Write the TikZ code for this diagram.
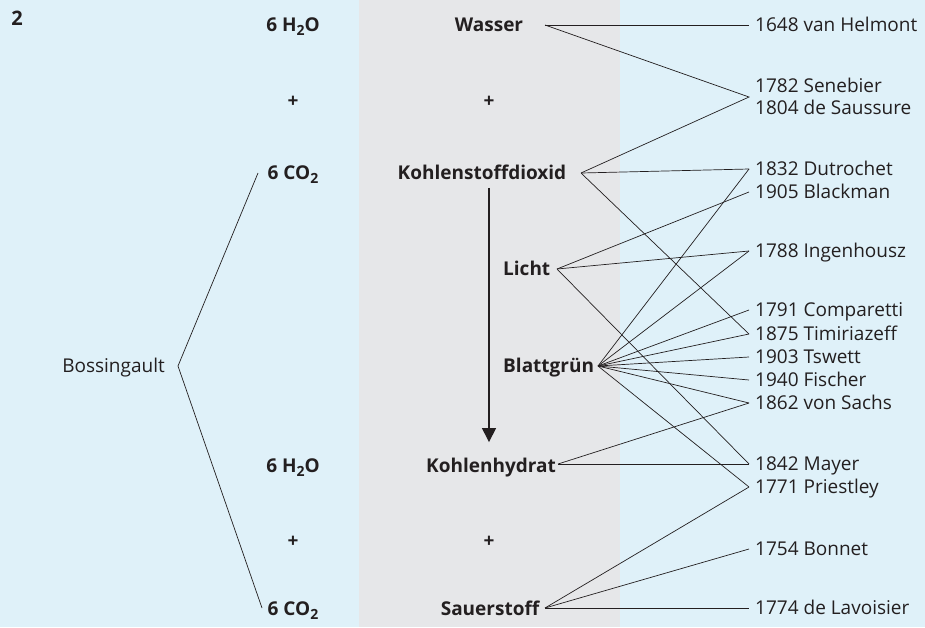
\documentclass[tikz,border=0pt]{standalone}
\usepackage{fontspec}
\setmainfont{Open Sans}
\usepackage{tikz}
\usetikzlibrary{arrows.meta}
\usetikzlibrary{calc}
\definecolor{Ink}{RGB}{35,31,32}
\definecolor{SkyBg}{RGB}{223,241,249}
\definecolor{BandBg}{RGB}{230,231,233}
\newcommand{\lowsub}[1]{\raisebox{-0.35ex}{\fontsize{14}{14}\selectfont #1}}

\begin{document}
\begin{tikzpicture}[x=1pt,y=-1pt]
		\tikzstyle{Term}=[font=\fontsize{19}{22}\selectfont\bfseries,text=Ink,inner sep=0pt,text height=13.5pt,text depth=0pt]
		\tikzstyle{Name}=[font=\fontsize{19}{22}\selectfont,text=Ink,anchor=west,inner xsep=6pt,inner ysep=0pt,text height=13.5pt,text depth=0pt]
		\tikzstyle{link}=[draw=Ink,line width=0.7pt]
		\tikzstyle{flow}=[draw=Ink,line width=1.4pt,-{Triangle[length=14pt,width=14pt]}]

 		\def\colL {293}
 		\def\colM {489}
 		\def\colR {749}

		% background
		\fill[SkyBg] (0,0) rectangle (925,627);
		\fill[BandBg] (359,0) rectangle (620,627);
		\useasboundingbox (0,0) rectangle (925,627);

		\node [Term,font=\fontsize{20}{22}\selectfont\bfseries] (num) at (17,19) {2};

		% equation, left column
		\node [Term] (lH2O) at (\colL,25) {6 H\lowsub{2}O};
		\node [Term] (lPlus) at (\colL,101) {+};
		\node [Term] (lCO2) at (\colL,173) {6 CO\lowsub{2}};
		\node [Term] (rH2O) at (\colL,466) {6 H\lowsub{2}O};
		\node [Term] (rPlus) at (\colL,541) {+};
		\node [Term] (rCO2) at (\colL,609) {6 CO\lowsub{2}};

		% words, middle column
		\node [Term] (wasser) at (\colM,25) {Wasser};
		\node [Term] (mPlusA) at (\colM,101) {+};
		\node [Term] (dioxid) at (482,173) {Kohlenstoffdioxid};
		\node [Term,anchor=west] (licht) at (503,269) {Licht};
		\node [Term,anchor=west] (gruen) at (503,366) {Blattgrün};
		\node [Term] (hydrat) at (491,466) {Kohlenhydrat};
		\node [Term] (mPlusB) at (\colM,541) {+};
		\node [Term] (sauer) at (490,609) {Sauerstoff};

		\draw [flow] ([yshift=-8pt]dioxid.south -| wasser.center) -- ([yshift=17pt]hydrat.north -| wasser.center);

		% researchers, right column
		\foreach \y/\nm/\who in {25/helmont/1648 van Helmont, 86/senebier/1782 Senebier, 108/saussure/1804 de Saussure,
			169/dutrochet/1832 Dutrochet, 192/blackman/1905 Blackman, 251/ingenhousz/1788 Ingenhousz,
			310/comparetti/1791 Comparetti, 334/timiriazeff/1875 Timiriazeff, 357/tswett/1903 Tswett,
			380/fischer/1940 Fischer, 403/sachs/1862 von Sachs, 464/mayer/1842 Mayer,
			487/priestley/1771 Priestley, 549/bonnet/1754 Bonnet, 608/lavoisier/1774 de Lavoisier}
		{
			\node [Name] (\nm) at (\colR,\y) {\who};
		}
		\coordinate (senS) at ($(senebier.west)!0.5!(saussure.west)$);

		% line ends after the words
		\coordinate (hWa) at (545,25);
		\coordinate (hDi) at (581,173);
		\coordinate (hLi) at (557,269);
		\coordinate (hGr) at (598,366);
		\coordinate (hHy) at (558,464);
		\coordinate (hSa) at (545,608);

		\draw [link] (hWa) -- (helmont.west);
		\draw [link] (hWa) -- (senS) -- (hDi);
		\draw [link] (hDi) -- (dutrochet.west);
		\draw [link] (hDi) -- (timiriazeff.west);

		\draw [link] (hLi) -- (blackman.west);
		\draw [link] (hLi) -- (ingenhousz.west);
		\draw [link] (hLi) -- (mayer.west);

		\foreach \nm in {dutrochet,ingenhousz,comparetti,timiriazeff,tswett,fischer,sachs,priestley}
			\draw [link] (hGr) -- (\nm.west);

		\draw [link] (hHy) -- (sachs.west);
		\draw [link] (hHy) -- (mayer.west);

		\draw [link] (hSa) -- (priestley.west);
		\draw [link] (hSa) -- (bonnet.west);
		\draw [link] (hSa) -- (lavoisier.west);

		% Bossingault
		\node [Name,anchor=east,inner xsep=0pt] (boss) at (165,366) {Bossingault};
		\coordinate (bTop) at (258,173);
		\coordinate (bTip) at ([xshift=13pt]boss.east);
		\coordinate (bBot) at (262,608);
		\draw [link] (bTop) -- (bTip) -- (bBot);

  \end{tikzpicture}
\end{document}
